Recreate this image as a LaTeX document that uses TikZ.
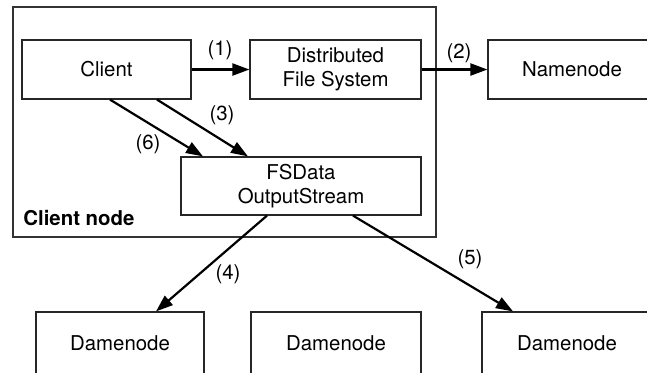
\documentclass[tikz,border=0pt]{standalone}
\usepackage{fontspec}
\setmainfont{TeX Gyre Heros}
\usetikzlibrary{arrows.meta}
\tikzset{
  box/.style={draw=black!85, line width=0.6pt, inner sep=0pt, align=center,
    font=\fontsize{10.2}{12.2}\selectfont},
  openbox/.style={box, draw=none},
  flow/.style={line width=1.1pt, -{Triangle[length=8.5pt,width=6pt]}},
  step label/.style={font=\fontsize{10.2}{12}\selectfont, inner sep=0pt},
  group label/.style={font=\fontsize{10.2}{12}\selectfont\bfseries, inner sep=0pt, anchor=west}
}
\begin{document}
\begin{tikzpicture}[x=0.5pt, y=-0.5pt]
  \useasboundingbox (0,0) rectangle (647,372);
  \clip (0,0) rectangle (647,372);
  \fill[white] (0,0) rectangle (647,372);

  % client node frame
  \node[draw=black!80, line width=0.55pt, minimum width=211.5pt, minimum height=115pt, inner sep=0pt]
    (frame) at (224.5,122) {};
  \node[group label] (framelabel) at (23,218) {Client node};

  % boxes inside the client node
  \node[box, minimum width=84.5pt, minimum height=29.5pt] (client) at (106.5,69.5) {Client};
  \node[box, minimum width=85.5pt, minimum height=29.5pt] (dfs) at (335.5,69.5) {Distributed\\File System};
  \node[box, minimum width=120pt, minimum height=29pt] (fsd) at (301,186) {FSData\\OutputStream};

  % namenode, running past the right edge
  \node[box, minimum width=84pt, minimum height=29.5pt] (name) at (572,69.5) {Namenode};

  % datanodes, running past the bottom edge
  \node[box, minimum width=84pt, minimum height=31pt] (d1) at (120,343) {Damenode};
  \node[box, minimum width=85pt, minimum height=31pt] (d2) at (336,343) {Damenode};
  \node[box, minimum width=85pt, minimum height=31pt] (d3) at (567,343) {Damenode};

  % numbered steps
  \draw[flow] (client.east) -- (dfs.west);
  \draw[flow] (dfs.east) -- (name.west);
  \draw[flow] ([xshift=1.75pt]client.south) -- ([xshift=-49pt]fsd.north);
  \draw[flow] ([xshift=25.25pt]client.south) -- ([xshift=-26.5pt]fsd.north);
  \draw[flow] ([xshift=-17pt]fsd.south) -- ([xshift=18pt]d1.north);
  \draw[flow] ([xshift=26pt]fsd.south) -- ([xshift=-27pt]d3.north);

  \node[step label] (l1) at (220,50) {(1)};
  \node[step label] (l2) at (459,53) {(2)};
  \node[step label] (l3) at (222,115) {(3)};
  \node[step label] (l6) at (148,144) {(6)};
  \node[step label] (l4) at (228,274) {(4)};
  \node[step label] (l5) at (470,259) {(5)};
\end{tikzpicture}
\end{document}
